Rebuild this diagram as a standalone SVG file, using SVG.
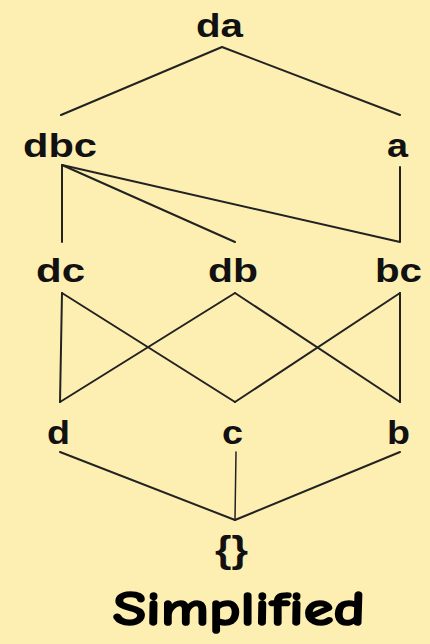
<svg xmlns="http://www.w3.org/2000/svg" width="430" height="644" viewBox="0 0 430 644">
<style>
.lbl{font-family:"Liberation Sans",Arial,sans-serif;font-weight:bold;font-size:34px;fill:#111;}
.e{stroke:#222;stroke-width:2;fill:none;stroke-linecap:round;stroke-linejoin:round;}
.cap{font-family:"Comic Sans MS","Comic Neue",cursive;font-weight:bold;font-size:48px;fill:#000;stroke:#000;stroke-width:1.6;}
</style>
<rect width="430" height="644" fill="#FDEFB2"/>
<g id="connectors">
<polyline class="e" points="61,115 222,47 400,115"/>
<line class="e" x1="62" y1="165" x2="62" y2="242"/>
<line class="e" x1="62" y1="165" x2="235" y2="242"/>
<polyline class="e" points="62,165 400,242 400,167"/>
<line class="e" x1="62" y1="293" x2="60" y2="402"/>
<line class="e" x1="62" y1="293" x2="235" y2="402"/>
<line class="e" x1="235" y1="293" x2="60" y2="402"/>
<line class="e" x1="235" y1="293" x2="400" y2="402"/>
<line class="e" x1="400" y1="293" x2="235" y2="402"/>
<line class="e" x1="400" y1="293" x2="400" y2="402"/>
<line class="e" x1="60" y1="452" x2="235" y2="520"/>
<line class="e" x1="236" y1="452" x2="235" y2="520" style="stroke-width:1.5"/>
<line class="e" x1="400" y1="452" x2="235" y2="520"/>
</g>
<g id="n-da"><text class="lbl" x="196" y="37" textLength="47" lengthAdjust="spacingAndGlyphs">da</text></g>
<g id="n-dbc"><text class="lbl" x="23" y="157" textLength="74" lengthAdjust="spacingAndGlyphs">dbc</text></g>
<g id="n-a"><text class="lbl" x="387" y="157" textLength="21" lengthAdjust="spacingAndGlyphs">a</text></g>
<g id="n-dc"><text class="lbl" x="36" y="282" textLength="49" lengthAdjust="spacingAndGlyphs">dc</text></g>
<g id="n-db"><text class="lbl" x="208" y="282" textLength="50" lengthAdjust="spacingAndGlyphs">db</text></g>
<g id="n-bc"><text class="lbl" x="375" y="282" textLength="47" lengthAdjust="spacingAndGlyphs">bc</text></g>
<g id="n-d"><text class="lbl" x="47" y="444" textLength="23" lengthAdjust="spacingAndGlyphs">d</text></g>
<g id="n-c"><text class="lbl" x="222" y="444" textLength="21" lengthAdjust="spacingAndGlyphs">c</text></g>
<g id="n-b"><text class="lbl" x="387" y="444" textLength="23" lengthAdjust="spacingAndGlyphs">b</text></g>
<g id="n-empty"><text class="lbl" x="215" y="562" textLength="33" lengthAdjust="spacingAndGlyphs" style="font-size:36px">{}</text></g>
<text class="cap" x="113" y="625" textLength="252" lengthAdjust="spacingAndGlyphs">Simplified</text>
</svg>
